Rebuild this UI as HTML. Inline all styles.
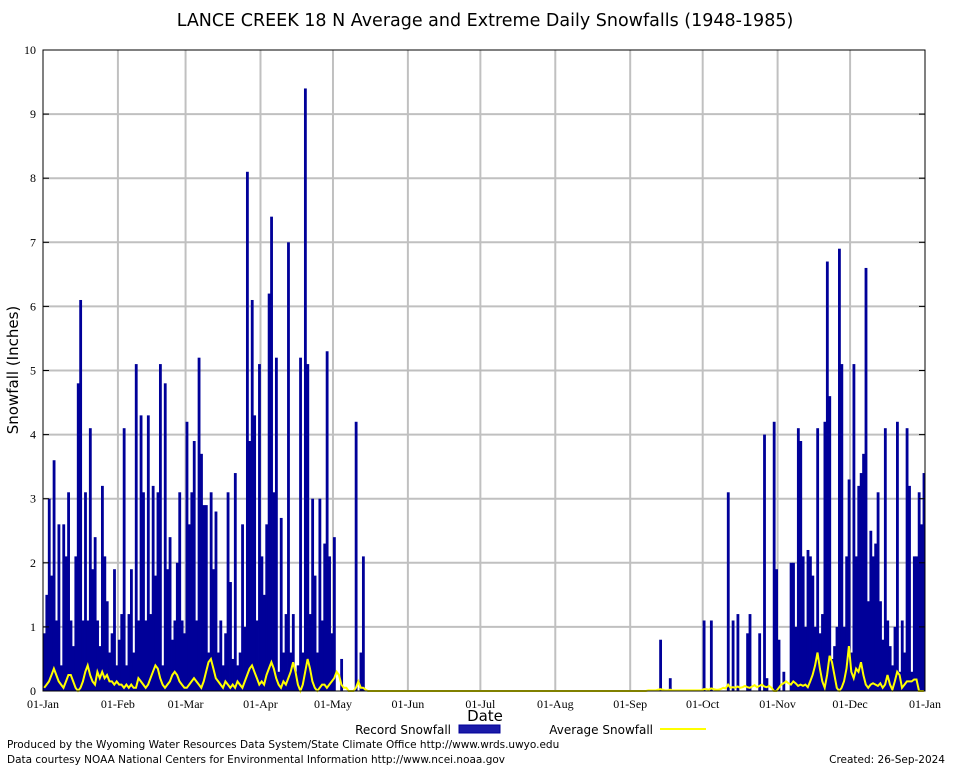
<!DOCTYPE html>
<html><head><meta charset="utf-8"><style>
body{margin:0;background:#fff;}
svg{display:block;font-family:"DejaVu Sans","Liberation Sans",sans-serif;}
</style></head><body>
<svg id="chart" width="954" height="768" viewBox="0 0 954 768" xmlns="http://www.w3.org/2000/svg">
<rect width="954" height="768" fill="#fff"/>
<text x="485" y="26" font-size="17.5" text-anchor="middle">LANCE CREEK 18 N Average and Extreme Daily Snowfalls (1948-1985)</text>
<g id="grid"></g>
<g id="bars"></g>
<g id="avg"></g>
<g id="axes"></g>
<text transform="translate(18,370) rotate(-90)" font-size="15" text-anchor="middle">Snowfall (Inches)</text>
<text x="485" y="721" font-size="15" text-anchor="middle">Date</text>
<g>
<text x="451" y="734" font-size="12" text-anchor="end">Record Snowfall</text>
<rect x="459" y="725" width="41" height="8" fill="#1a1aa8" stroke="#000099"/>
<text x="653" y="734" font-size="12" text-anchor="end">Average Snowfall</text>
<line x1="660" y1="729" x2="706" y2="729" stroke="#ffff00" stroke-width="2"/>
</g>
<text x="7" y="748" font-size="10.5">Produced by the Wyoming Water Resources Data System/State Climate Office http://www.wrds.uwyo.edu</text>
<text x="7" y="763" font-size="10.5">Data courtesy NOAA National Centers for Environmental Information http://www.ncei.noaa.gov</text>
<text x="945" y="763" font-size="10.5" text-anchor="end">Created:  26-Sep-2024</text>
</svg>
<script>
const yTicks=[0,1,2,3,4,5,6,7,8,9,10];
const monthLabels=["01-Jan","01-Feb","01-Mar","01-Apr","01-May","01-Jun","01-Jul","01-Aug","01-Sep","01-Oct","01-Nov","01-Dec","01-Jan"];
const monthStarts=[0,31,59,90,120,151,181,212,243,273,304,334,365];
const recSpring=[0.9,1.5,3.0,1.8,3.6,1.1,2.6,0.4,2.6,2.1,3.1,1.1,0.7,2.1,4.8,6.1,1.1,3.1,1.1,4.1,1.9,2.4,1.1,0.7,3.2,2.1,1.4,0.6,0.9,1.9,0.4,
0.8,1.2,4.1,0.4,1.2,1.9,0.6,5.1,1.1,4.3,3.1,1.1,4.3,1.2,3.2,1.8,3.1,5.1,0.4,4.8,1.9,2.4,0.8,1.1,2.0,3.1,1.1,0.9,
4.2,2.6,3.1,3.9,1.1,5.2,3.7,2.9,2.9,0.6,3.1,1.9,2.8,0.6,1.1,0.4,0.9,3.1,1.7,0.5,3.4,0.4,0.6,2.6,1.0,8.1,3.9,6.1,4.3,1.1,5.1,
2.1,1.5,2.6,6.2,7.4,3.1,5.2,0.3,2.7,0.6,1.2,7.0,0.6,1.2,0.3,0.4,5.2,0.6,9.4,5.1,1.2,3.0,1.8,0.6,3.0,1.1,2.3,5.3,2.1,0.9,
2.4,0,0,0.5,0,0,0,0,0,4.2,0,0.6,2.1];
const recFallDays=[255,259,273,276,283,285,287,291,292,296,298,299,302,303,304,306,309,310,311,312,313,314,315,316,317,318,319,320,321,322,323,324,325,326,327,328,329,330,331,332,333,334,335,336,337,338,339,340,341,342,343,344,345,346,347,348,349,350,351,352,353,354,355,356,357,358,359,360,361,362,363,364];
const recFallVals=[0.8,0.2,1.1,1.1,3.1,1.1,1.2,0.9,1.2,0.9,4.0,0.2,4.2,1.9,0.8,0.3,2.0,2.0,1.0,4.1,3.9,2.1,1.0,2.2,2.1,1.8,1.0,4.1,0.9,1.2,4.2,6.7,4.6,0.5,0.7,1.0,6.9,5.1,1.0,2.1,3.3,0.6,5.1,2.1,3.2,3.4,3.7,6.6,1.4,2.5,2.1,2.3,3.1,1.4,0.8,4.1,1.1,0.7,0.4,1.0,4.2,0.3,1.1,0.6,4.1,3.2,0.3,2.1,2.1,3.1,2.6,3.4];
const avgSpring=[0.05,0.1,0.15,0.25,0.35,0.25,0.15,0.1,0.05,0.15,0.25,0.25,0.15,0.05,0.0,0.05,0.15,0.3,0.4,0.25,0.15,0.1,0.3,0.2,0.3,0.2,0.25,0.15,0.15,0.1,0.15,
0.1,0.1,0.05,0.1,0.05,0.1,0.05,0.05,0.2,0.15,0.1,0.05,0.1,0.2,0.3,0.4,0.35,0.2,0.1,0.05,0.1,0.15,0.25,0.3,0.25,0.15,0.1,0.05,
0.05,0.1,0.15,0.2,0.15,0.1,0.05,0.15,0.3,0.45,0.5,0.35,0.2,0.15,0.1,0.05,0.15,0.1,0.05,0.1,0.05,0.15,0.1,0.05,0.15,0.25,0.35,0.4,0.3,0.2,0.1,
0.15,0.1,0.25,0.35,0.45,0.35,0.2,0.1,0.05,0.15,0.1,0.2,0.3,0.45,0.3,0.1,0.0,0.1,0.3,0.5,0.35,0.15,0.05,0.0,0.05,0.1,0.1,0.05,0.1,0.15,
0.2,0.3,0.25,0.1,0.05,0.05,0.0,0.0,0.0,0.05,0.15,0.05,0.05,0.02];
const avgFallStart=250;
const avgFall=[0.01,0.01,0.01,0.01,0.02,0.03,0.02,0.01,0.01,0.02,0.01,0.01,0.01,0.01,0.01,0.01,0.01,0.01,0.01,0.01,0.01,0.01,0.01,
0.03,0.03,0.02,0.04,0.03,0.02,0.02,0.03,0.05,0.04,0.1,0.05,0.06,0.05,0.07,0.05,0.06,0.08,0.06,0.05,0.07,0.09,0.06,0.08,0.1,0.07,0.06,0.08,
0.05,0.0,0.0,0.05,0.1,0.12,0.15,0.12,0.1,0.15,0.12,0.08,0.1,0.08,0.1,0.06,0.15,0.25,0.4,0.6,0.35,0.15,0.05,0.25,0.55,0.45,0.25,0.05,0.0,0.05,
0.15,0.35,0.7,0.3,0.2,0.35,0.3,0.45,0.25,0.1,0.05,0.1,0.12,0.1,0.08,0.12,0.05,0.1,0.25,0.1,0.02,0.15,0.3,0.25,0.05,0.1,0.15,0.15,0.15,0.18,0.18];

const X0=43,X1=925,Y0=691,Y1=50,NS="http://www.w3.org/2000/svg";
const dw=(X1-X0)/365;
function xs(d){return X0+d*dw;}
function ys(v){return Y0-(v/10)*(Y0-Y1);}
function mk(tag,attrs,parent){const e=document.createElementNS(NS,tag);for(const k in attrs)e.setAttribute(k,attrs[k]);parent.appendChild(e);return e;}
const grid=document.getElementById('grid'),bars=document.getElementById('bars'),avgG=document.getElementById('avg'),axes=document.getElementById('axes');
yTicks.forEach(t=>{
  if(t>0&&t<10){const l=mk('line',{x1:X0,x2:X1,y1:ys(t),y2:ys(t),stroke:'#c0c0c0','stroke-width':2},grid);
  
  }
  const tx=mk('text',{x:36,y:ys(t)+4,'font-size':12,'text-anchor':'end','font-family':'Liberation Serif, serif'},axes);
  tx.textContent=t;
  
  
  mk('line',{x1:X0,x2:X0+6,y1:ys(t),y2:ys(t),stroke:'#000'},axes);
  mk('line',{x1:X1,x2:X1-6,y1:ys(t),y2:ys(t),stroke:'#000'},axes);
});
monthStarts.forEach((d,i)=>{
  if(i>0&&i<12){const l=mk('line',{x1:xs(d),x2:xs(d),y1:Y1,y2:Y0,stroke:'#c0c0c0','stroke-width':2},grid);
  
  }
  const tx=mk('text',{x:xs(d),y:708,'font-size':12,'text-anchor':'middle','font-family':'Liberation Serif, serif'},axes);
  tx.textContent=monthLabels[i];
  
  
});
const rec=new Array(365).fill(0);
recSpring.forEach((v,i)=>rec[i]=v);
recFallDays.forEach((d,i)=>rec[d]=recFallVals[i]);
rec.forEach((v,d)=>{
  if(v<=0)return;
  const r=mk('rect',{x:xs(d),y:ys(v),width:dw+0.4,height:Y0-ys(v),fill:'#000099'},bars);
  
  
});
const avg=new Array(365).fill(0);
avgSpring.forEach((v,i)=>avg[i]=v);
avgFall.forEach((v,i)=>avg[avgFallStart+i]=v);
let pts=avg.map((v,d)=>xs(d+0.5).toFixed(1)+','+ys(v).toFixed(1)).join(' ');
const pl=mk('polyline',{points:pts,fill:'none',stroke:'#ffff00','stroke-width':2},avgG);


const fr=mk('rect',{x:X0,y:Y1,width:X1-X0,height:Y0-Y1,fill:'none',stroke:'#000','stroke-width':1},axes);


</script>
</body></html>
